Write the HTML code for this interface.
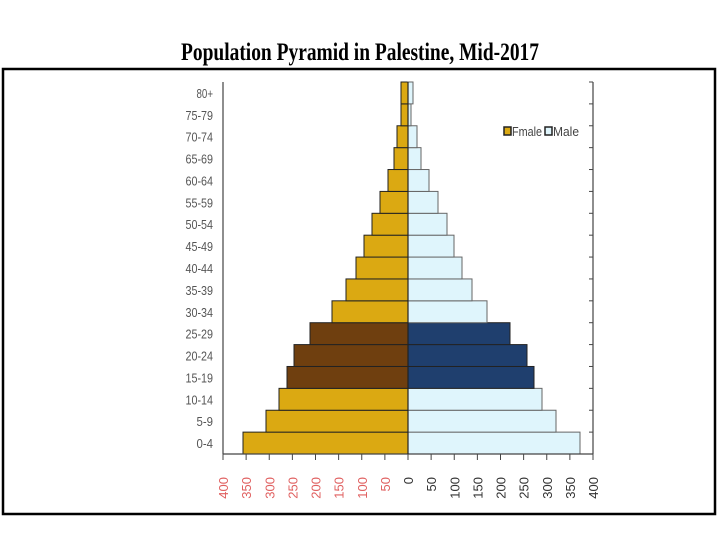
<!DOCTYPE html>
<html><head><meta charset="utf-8"><style>html,body{margin:0;padding:0;background:#fff;width:720px;height:540px;overflow:hidden}</style></head>
<body>
<svg width="720" height="540" xmlns="http://www.w3.org/2000/svg">
<text x="360" y="60" text-anchor="middle" font-family="Liberation Serif, serif" font-weight="bold" font-size="25" textLength="358" lengthAdjust="spacingAndGlyphs" fill="#000">Population Pyramid in Palestine, Mid-2017</text>
<rect x="3" y="69" width="712" height="445" fill="none" stroke="#000" stroke-width="2.5"/>
<g id="bars" stroke="#222" stroke-width="1">
</g>
<script>
var F=[243,266,279,287,294,310,332,346,356,364,372,380,388,394,397,401,401];
var M=[580,556,542,534,527,510,487,472,462,454,447,438,429,421,417,411,413];
var g=document.getElementById('bars'),ns='http://www.w3.org/2000/svg',h=(454-82)/17;
for(var i=0;i<17;i++){var y=454-(i+1)*h;var dark=(i>=3&&i<=5);
var r=document.createElementNS(ns,'rect');r.setAttribute('x',F[i]);r.setAttribute('y',y);r.setAttribute('width',408-F[i]);r.setAttribute('height',h);r.setAttribute('fill',dark?'#6f3f0f':'#dba912');g.appendChild(r);
r=document.createElementNS(ns,'rect');r.setAttribute('x',408);r.setAttribute('y',y);r.setAttribute('width',M[i]-408);r.setAttribute('height',h);r.setAttribute('fill',dark?'#1f3f6e':'#dff5fc');r.setAttribute('stroke',dark?'#222':'#666');g.appendChild(r);}
</script>
<g stroke="#444" stroke-width="1.2" fill="none">
<line x1="223" y1="82" x2="223" y2="454"/>
<line x1="593" y1="82" x2="593" y2="454"/>
<line x1="223" y1="454" x2="593" y2="454"/>
<line x1="408" y1="82" x2="408" y2="454" stroke="#222"/>
</g>
<g id="ticks" stroke="#444" stroke-width="1"></g>
<g font-family="Liberation Sans, sans-serif" font-size="13" fill="#555" text-anchor="end" id="ylab"></g>
<g font-family="Liberation Sans, sans-serif" font-size="13" id="xlab"></g>
<script>
var t=document.getElementById('ticks'),yl=document.getElementById('ylab'),xl=document.getElementById('xlab');
var labs=['0-4','5-9','10-14','15-19','20-24','25-29','30-34','35-39','40-44','45-49','50-54','55-59','60-64','65-69','70-74','75-79','80+'];
for(var i=0;i<=17;i++){var y=454-i*h;var l=document.createElementNS(ns,'line');l.setAttribute('x1',589);l.setAttribute('x2',593);l.setAttribute('y1',y);l.setAttribute('y2',y);t.appendChild(l);
if(i<17){var tx=document.createElementNS(ns,'text');tx.setAttribute('x',213);tx.setAttribute('y',y-h/2+5);tx.setAttribute('textLength',labs[i].length*5.5);tx.setAttribute('lengthAdjust','spacingAndGlyphs');tx.textContent=labs[i];yl.appendChild(tx);}}
for(var k=-8;k<=8;k++){var x=408+k*23.125;var l=document.createElementNS(ns,'line');l.setAttribute('x1',x);l.setAttribute('x2',x);l.setAttribute('y1',454);l.setAttribute('y2',460);t.appendChild(l);
var tx=document.createElementNS(ns,'text');tx.setAttribute('transform','translate('+(x+5)+',477) rotate(-90)');tx.setAttribute('text-anchor','end');tx.setAttribute('fill',k<0?'#e06060':'#333');tx.textContent=Math.abs(k*50);xl.appendChild(tx);}
</script>
<g font-family="Liberation Sans, sans-serif" font-size="13" fill="#444">
<rect x="504" y="127" width="7" height="8" fill="#dba912" stroke="#222" stroke-width="1.5"/>
<text x="512" y="136" textLength="30" lengthAdjust="spacingAndGlyphs">Fmale</text>
<rect x="545" y="127" width="7" height="8" fill="#dff5fc" stroke="#222" stroke-width="1.5"/>
<text x="553" y="136" textLength="26" lengthAdjust="spacingAndGlyphs">Male</text>
</g>
</svg>
</body></html>
